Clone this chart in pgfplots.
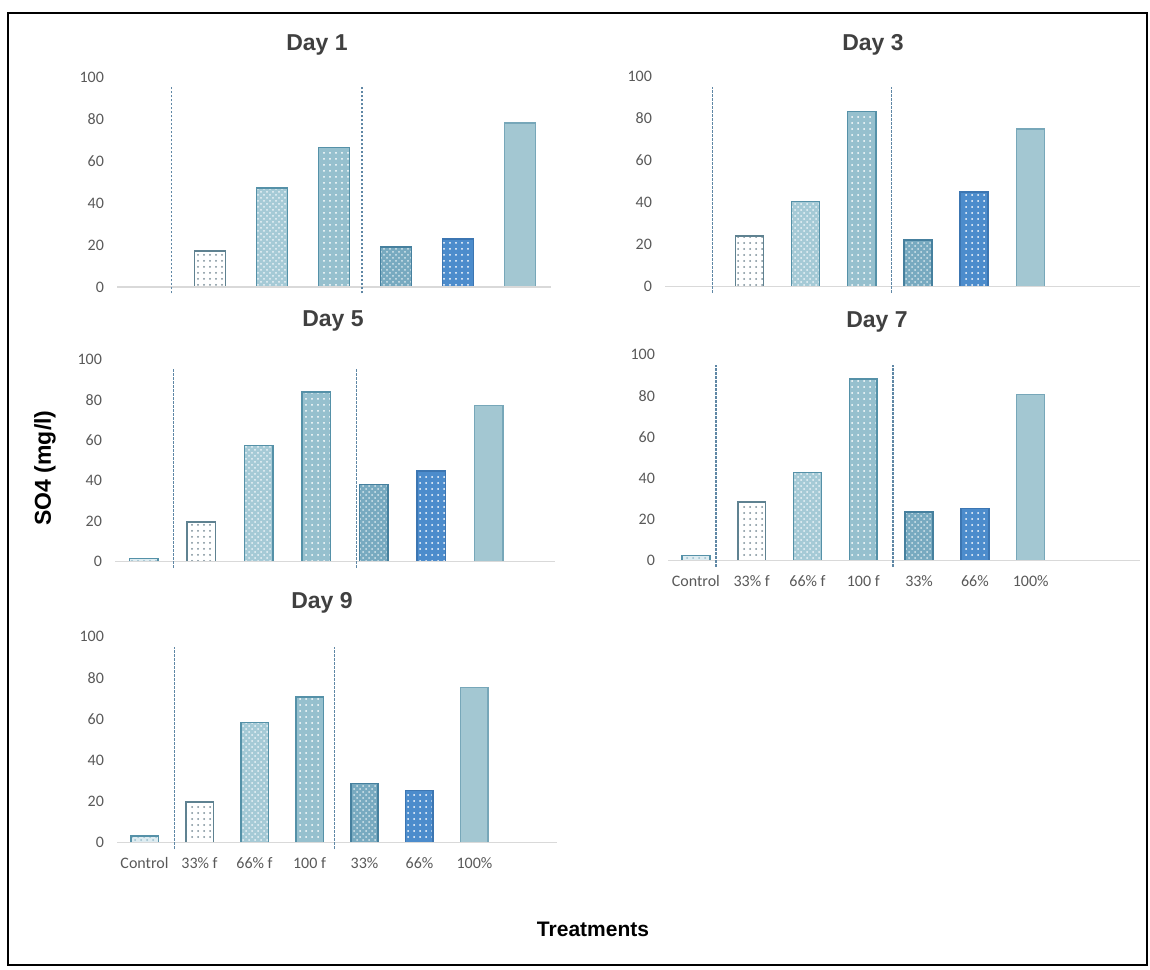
\documentclass[border=0pt]{standalone}
\usepackage{pgfplots}
\pgfplotsset{compat=1.18}
\usepackage{fontspec}
\setmainfont{Carlito}
\newfontfamily\titlefont{Liberation Sans}
\usetikzlibrary{patterns}

\definecolor{tickgray}{RGB}{89,89,89}
\definecolor{axisgray}{RGB}{217,217,217}
\definecolor{titlegray}{RGB}{64,64,64}
\definecolor{dashcol}{RGB}{95,135,165}
\definecolor{edgeA}{RGB}{95,130,145}
\definecolor{edgeB}{RGB}{85,145,168}
\definecolor{edgeC}{RGB}{70,128,158}
\definecolor{edgeD}{RGB}{60,118,178}
\definecolor{fillC0}{RGB}{222,236,241}
\definecolor{fillC2}{RGB}{165,202,214}
\definecolor{fillC3}{RGB}{150,192,206}
\definecolor{fillC4}{RGB}{120,170,192}
\definecolor{fillC5}{RGB}{76,140,204}
\definecolor{fillC6}{RGB}{163,199,210}
\definecolor{dotgray}{RGB}{120,140,150}

\pgfplotsset{
  panel/.style={
    scale only axis, anchor=south west, clip=false,
    ymin=0, ymax=100, xmin=-0.5,
    ytick={0,20,...,100},
    axis line style={draw=none},
    major tick length=0pt,
    ybar, bar width=0.5, bar shift=0pt,
    /pgf/number format/assume math mode=true,
    yticklabel style={font=\fontsize{8}{9}\selectfont, text=tickgray, xshift=-3pt},
    xticklabel style={font=\fontsize{8}{9}\selectfont, text=tickgray, yshift=-4pt},
    xtick={0,...,6}, xticklabels={},
  },
  labs/.style={xticklabels={Control,33\% f,66\% f,100 f,33\%,66\%,100\%}},
  bc0/.style={bar shift=0pt, draw=edgeB, line width=0.75pt, fill=fillC0, postaction={pattern=crosshatch dots, pattern color=edgeB!60}},
  bc1/.style={bar shift=0pt, draw=edgeA, line width=0.75pt, fill=white, postaction={pattern=dots, pattern color=dotgray}},
  bc2/.style={bar shift=0pt, draw=edgeB, line width=0.75pt, fill=fillC2, postaction={pattern=crosshatch dots, pattern color=white!80!fillC2}},
  bc3/.style={bar shift=0pt, draw=edgeB, line width=0.75pt, fill=fillC3, postaction={pattern=dots, pattern color=white}},
  bc4/.style={bar shift=0pt, draw=edgeC, line width=0.75pt, fill=fillC4, postaction={pattern=crosshatch dots, pattern color=white!70!fillC4}},
  bc5/.style={bar shift=0pt, draw=edgeD, line width=0.75pt, fill=fillC5, postaction={pattern=dots, pattern color=white}},
  bc6/.style={bar shift=0pt, draw=edgeB!80, line width=0.75pt, fill=fillC6},
}
\newcommand{\seps}[2]{%
  \draw[axisgray, line width=0.6pt] (rel axis cs:0,0) -- (rel axis cs:1,0);
  \draw[dashcol, line width=0.65pt, dash pattern=on 1.2pt off 0.8pt] (axis cs:#1,-3) -- (axis cs:#1,95);
  \draw[dashcol, line width=0.65pt, dash pattern=on 1.2pt off 0.8pt] (axis cs:#2,-3) -- (axis cs:#2,95);
}

\begin{document}
\begin{tikzpicture}
\path (0pt,0pt) rectangle (575pt,484.5pt);
\draw[black, line width=1pt] (4pt,2pt) rectangle (573.5pt,478pt);

% Day 1
\begin{axis}[panel, at={(58.5pt,341pt)}, width=217pt, height=105pt, xmax=6.5]
  \addplot[bc1] coordinates {(1,17.2)};
  \addplot[bc2] coordinates {(2,47.1)};
  \addplot[bc3] coordinates {(3,66.5)};
  \addplot[bc4] coordinates {(4,19.1)};
  \addplot[bc5] coordinates {(5,22.9)};
  \addplot[bc6] coordinates {(6,78.0)};
  \seps{0.38}{3.45}
\end{axis}

% Day 3
\begin{axis}[panel, at={(332.5pt,341.2pt)}, width=237.5pt, height=105pt, xmax=7.95]
  \addplot[bc1] coordinates {(1,24.0)};
  \addplot[bc2] coordinates {(2,40.5)};
  \addplot[bc3] coordinates {(3,83.3)};
  \addplot[bc4] coordinates {(4,22.2)};
  \addplot[bc5] coordinates {(5,45.1)};
  \addplot[bc6] coordinates {(6,75.1)};
  \seps{0.35}{3.53}
\end{axis}

% Day 5
\begin{axis}[panel, at={(57.5pt,203.7pt)}, width=220pt, height=101.2pt, xmax=7.15]
  \addplot[bc0] coordinates {(0,1.6)};
  \addplot[bc1] coordinates {(1,19.6)};
  \addplot[bc2] coordinates {(2,57.3)};
  \addplot[bc3] coordinates {(3,83.7)};
  \addplot[bc4] coordinates {(4,38.2)};
  \addplot[bc5] coordinates {(5,44.7)};
  \addplot[bc6] coordinates {(6,77.0)};
  \seps{0.52}{3.7}
\end{axis}

% Day 7
\begin{axis}[panel, labs, at={(334pt,204.2pt)}, width=236pt, height=102.9pt, xmax=7.96]
  \addplot[bc0] coordinates {(0,2.4)};
  \addplot[bc1] coordinates {(1,28.5)};
  \addplot[bc2] coordinates {(2,42.8)};
  \addplot[bc3] coordinates {(3,88.3)};
  \addplot[bc4] coordinates {(4,23.5)};
  \addplot[bc5] coordinates {(5,25.3)};
  \addplot[bc6] coordinates {(6,80.6)};
  \seps{0.36}{3.53}
\end{axis}

% Day 9
\begin{axis}[panel, labs, at={(58.5pt,63.2pt)}, width=220pt, height=103pt, xmax=7.5]
  \addplot[bc0] coordinates {(0,3.1)};
  \addplot[bc1] coordinates {(1,19.6)};
  \addplot[bc2] coordinates {(2,58.3)};
  \addplot[bc3] coordinates {(3,70.7)};
  \addplot[bc4] coordinates {(4,28.6)};
  \addplot[bc5] coordinates {(5,25.2)};
  \addplot[bc6] coordinates {(6,75.2)};
  \seps{0.55}{3.45}
\end{axis}

\node[font=\titlefont\bfseries\fontsize{11.5}{13}\selectfont, text=titlegray] at (158.5pt,462pt) {Day 1};
\node[font=\titlefont\bfseries\fontsize{11.5}{13}\selectfont, text=titlegray] at (436.5pt,462pt) {Day 3};
\node[font=\titlefont\bfseries\fontsize{11.5}{13}\selectfont, text=titlegray] at (166.5pt,324pt) {Day 5};
\node[font=\titlefont\bfseries\fontsize{11.5}{13}\selectfont, text=titlegray] at (438.5pt,323.5pt) {Day 7};
\node[font=\titlefont\bfseries\fontsize{11.5}{13}\selectfont, text=titlegray] at (161pt,183pt) {Day 9};
\node[font=\titlefont\bfseries\fontsize{11.5}{13}\selectfont, rotate=90] at (22.5pt,250.5pt) {SO4 (mg/l)};
\node[font=\titlefont\bfseries\fontsize{10.5}{12}\selectfont] at (296.5pt,20pt) {Treatments};
\end{tikzpicture}
\end{document}
